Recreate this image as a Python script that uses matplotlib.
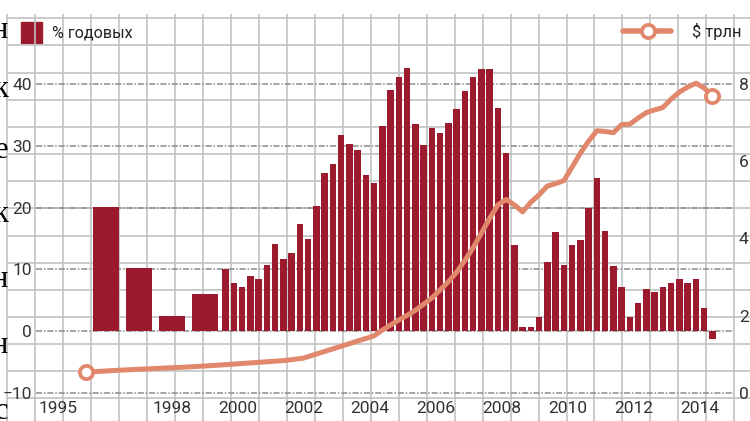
import matplotlib
matplotlib.use("Agg")
import matplotlib.pyplot as plt
import numpy as np

plt.rcParams['font.family'] = ['Noto Sans Condensed', 'DejaVu Sans Condensed',
                               'Liberation Sans Narrow', 'Roboto', 'DejaVu Sans']

# growth, % a year: annual bars 1996-1999, quarterly bars 2000-2014
annual_years = [1996, 1997, 1998, 1999]
annual_growth = [20.1, 10.3, 2.5, 6.1]
q_years = list(range(2000, 2015))
q_growth = [10.0, 7.8, 7.1, 9.0,
            8.5, 10.7, 14.1, 11.7,
            12.7, 17.4, 15.0, 20.3,
            25.6, 27.0, 31.8, 30.3,
            29.4, 25.3, 23.9, 33.2,
            39.0, 41.2, 42.6, 33.5,
            30.2, 32.8, 32.1, 33.7,
            35.9, 38.8, 41.2, 42.4,
            42.4, 36.1, 28.9, 13.9,
            0.6, 0.6, 2.3, 11.2,
            16.0, 10.7, 13.9, 14.8,
            19.9, 24.8, 16.2, 10.5,
            7.1, 2.3, 4.5, 6.8,
            6.4, 7.1, 7.8, 8.5,
            7.8, 8.5, 3.8, -1.3]

# volume, $ trillion: sparse points up to 2002, then quarterly from 2004 Q3
early_t = [1995.9, 1996.9, 1997.9, 1998.9, 1999.9, 2000.9, 2001.9, 2002.47]
early_vol = [0.54, 0.59, 0.63, 0.67, 0.72, 0.78, 0.84, 0.90]
late_start = (2004, 3)
late_vol = [1.48, 1.63,
            1.76, 1.89, 2.01, 2.14,
            2.30, 2.46, 2.67, 2.88,
            3.13, 3.43, 3.76, 4.14,
            4.52, 4.87, 5.01, 4.87,
            4.69, 4.94, 5.13, 5.36,
            5.42, 5.50, 5.85, 6.21,
            6.52, 6.79, 6.77, 6.74,
            6.95, 6.96, 7.12, 7.26,
            7.33, 7.39, 7.61, 7.79,
            7.92, 8.02, 7.90, 7.69]

left_ticks = [-10, 0, 10, 20, 30, 40]
right_ticks = [0, 2, 4, 6, 8]
x_labels = ['1995', '1998', '2000', '2002', '2004', '2006', '2008', '2010', '2012', '2014']
margin_letters = ['н', 'к', 'е', 'к', 'н', 'н', 'с']

BAR = '#9b1a2d'
LINE = '#e0876c'
GRID = '#c2c2c2'
TXT = '#333333'

# quarter centres: year Y spans [Y, Y+1)
q_x = [y + (q + 0.5) / 4 for y in q_years for q in range(4)]
late_t = [late_start[0] + (late_start[1] - 0.5 + i) / 4 for i in range(len(late_vol))]
line_t = early_t + late_t
line_v = early_vol + late_vol

fig = plt.figure(figsize=(7.5, 4.21), dpi=100)

# graph paper background in pixel coordinates
bg = fig.add_axes([0, 0, 1, 1])
bg.set_xlim(0, 750)
bg.set_ylim(421, 0)
bg.axis('off')
bg.set_zorder(0)
for gx in 7.3 + 27.96 * np.arange(27):
    bg.plot([gx, gx], [14, 421], color=GRID, lw=1.2, solid_capstyle='butt')
for gy in 18.3 + 27.15 * np.arange(15):
    bg.plot([7.3, 750], [gy, gy], color=GRID, lw=1.2, solid_capstyle='butt')

# cut off text of the page on the left
for ch, base in zip(margin_letters, [38, 97, 158, 222, 287, 353, 419]):
    bg.text(8, base, ch, ha='right', va='baseline', fontsize=22,
            family='Liberation Serif', color='black', clip_on=False)

# legends
bg.add_patch(plt.Rectangle((21, 22), 21, 21, color=BAR))
bg.text(52, 33, '% годовых', va='center', ha='left', fontsize=11.6, color='#222222')
bg.plot([623, 671], [31, 31], color=LINE, lw=4, solid_capstyle='round')
bg.plot([648], [31], 'o', ms=9.5, mfc='white', mec=LINE, mew=2.7)
bg.text(692, 31, '$ трлн', va='center', ha='left', fontsize=11.8, color='#222222')

# main axes, left scale = % a year
ax = fig.add_axes([0, 0, 1, 1])
ax.set_zorder(1)
ax.patch.set_visible(False)
x0 = 1998.5 - 172 / 33
x1 = 1998.5 + 578 / 33
y0 = (331.2 - 421) / 6.18
y1 = 331.2 / 6.18
ax.set_xlim(x0, x1)
ax.set_ylim(y0, y1)
for s in ax.spines.values():
    s.set_visible(False)

ax.hlines(left_ticks, 1994.38, 2015.53, colors='#8c8c8c',
          linestyles=(0, (4, 1.2, 1, 1.2)), lw=1.1, zorder=1)
ax.bar([y + 0.5 for y in annual_years], annual_growth, width=0.79, color=BAR, zorder=2)
ax.bar(q_x, q_growth, width=0.2, color=BAR, zorder=2)

ax.set_yticks(left_ticks)
ax.tick_params(axis='y', length=0, pad=-23, labelsize=12.5, labelcolor=TXT)
x_pos = [1995.05] + [int(s) + 0.5 for s in x_labels[1:]]
ax.set_xticks(x_pos, x_labels)
ax.tick_params(axis='x', length=0, pad=-14.5, labelsize=12.5, labelcolor=TXT)

# right scale = $ trillion, 0..8 matches -10..40
ax2 = ax.twinx()
ax2.set_zorder(2)
ax2.patch.set_visible(False)
ax2.set_ylim((y0 + 10) * 0.16, (y1 + 10) * 0.16)
for s in ax2.spines.values():
    s.set_visible(False)
ax2.set_yticks(right_ticks)
ax2.tick_params(axis='y', length=0, pad=-8, labelsize=12.5, labelcolor=TXT)

ax2.plot(line_t, line_v, color=LINE, lw=3.6, solid_joinstyle='round', zorder=3)
ax2.plot([line_t[0], line_t[-1]], [line_v[0], line_v[-1]], 'o', ms=9.5,
         mfc='white', mec=LINE, mew=2.7, zorder=4)

fig.savefig('out.png', dpi=100)
